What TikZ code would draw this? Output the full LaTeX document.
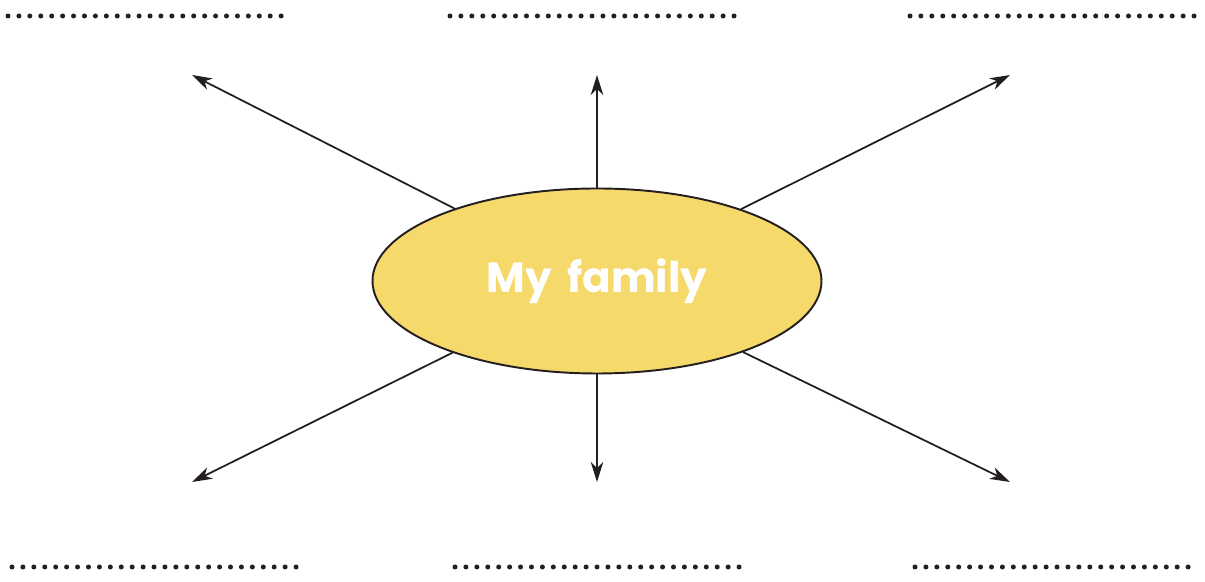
\documentclass[tikz,border=0pt]{standalone}
\usepackage{fontspec}
\newfontfamily\famfont{Poppins}
\usetikzlibrary{shapes.geometric,arrows.meta}
\definecolor{FamilyYellow}{HTML}{F6D96B}
\definecolor{FamilyInk}{HTML}{231F20}

\begin{document}
\begin{tikzpicture}[line cap=round,line join=round,
  bubble/.style={ellipse,draw=FamilyInk,line width=1.1pt,fill=FamilyYellow,minimum width=8.98cm,minimum height=3.7cm,inner sep=0pt},
  ray/.style={draw=FamilyInk,line width=1pt,-{Stealth[length=4mm,width=2.5mm,inset=1.2mm]}},
  blank/.style={draw=FamilyInk,line width=.1cm,line cap=round,dash pattern=on 0pt off 2.185mm}]
  \useasboundingbox (0,0) rectangle (24.1,11.64);
  \node[bubble] (fam) at (11.94,6.02) {\famfont\bfseries\fontsize{24}{29}\selectfont\color{white}My\hspace{.15em} family};
  \coordinate (tl) at (3.84,10.14);\coordinate (tc) at (11.94,10.14);\coordinate (tr) at (20.2,10.14);
  \coordinate (bl) at (3.84,2.0);\coordinate (bc) at (11.94,2.0);\coordinate (br) at (20.2,2.0);
  \draw[ray] (fam) -- (tl);\draw[ray] (fam) -- (tc);\draw[ray] (fam) -- (tr);
  \draw[ray] (fam) -- (bl);\draw[ray] (fam) -- (bc);\draw[ray] (fam) -- (br);
  % blank lines to write on
  \draw[blank] (.16,11.32) -- (5.84,11.32) (9.0,11.32) -- (14.7,11.32) (18.2,11.32) -- (23.9,11.32);
  \draw[blank] (.24,.3) -- (5.94,.3) (9.1,.3) -- (14.8,.3) (18.3,.3) -- (23.96,.3);
\end{tikzpicture}
\end{document}
